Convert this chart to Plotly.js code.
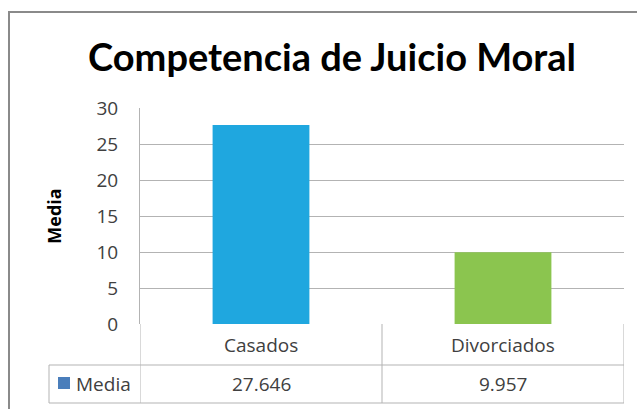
<!DOCTYPE html>
<html>
<head>
<meta charset="utf-8">
<script src="https://cdn.plot.ly/plotly-3.0.1.min.js"></script>
<style>html,body{margin:0;padding:0;background:#fff;}#chart{width:637px;height:409px;}</style>
</head>
<body>
<div id="chart"></div>
<script>
const categories = ["Casados", "Divorciados"];
const values = [27.646, 9.957];
const barColors = ["#1fa7df", "#8bc54f"];
const seriesName = "Media";
const chartTitle = "Competencia de Juicio Moral";
const yTicks = [0, 5, 10, 15, 20, 25, 30];

const FONT = "'Open Sans', Lato, sans-serif";
const TFONT = "Lato, 'Open Sans', sans-serif";
const GRID = "#b3b3b3";
const TXT = "#404040";

const plotTop = 108, plotBottom = 324, plotLeft = 140, plotRight = 624;
const W = 637, H = 409;
const ph = plotBottom - plotTop, pw = plotRight - plotLeft;
const py = v => -(v - plotBottom) / ph;   // pixel y -> paper y
const px = v => (v - plotLeft) / pw;      // pixel x -> paper x

const row1 = 365, row2 = 403, leftCol = 49;

const shapes = [];
// outer chart border
shapes.push({type: "rect", xref: "paper", yref: "paper", x0: px(9), x1: px(700), y0: py(12), y1: py(460),
  line: {color: "#8a8a8a", width: 2}, fillcolor: "rgba(0,0,0,0)", layer: "below"});
// table horizontal lines
shapes.push({type: "line", xref: "paper", yref: "paper", x0: px(leftCol), x1: 1, y0: py(row1), y1: py(row1), line: {color: GRID, width: 1}});
shapes.push({type: "line", xref: "paper", yref: "paper", x0: px(leftCol), x1: 1, y0: py(row2), y1: py(row2), line: {color: GRID, width: 1}});
// table vertical lines at category boundaries
for (let i = 0; i <= categories.length; i++) {
  shapes.push({type: "line", xref: "x", yref: "paper", x0: i - 0.5, x1: i - 0.5, y0: 0, y1: py(row2), line: {color: GRID, width: 1}});
}
shapes.push({type: "line", xref: "paper", yref: "paper", x0: px(leftCol), x1: px(leftCol), y0: py(row1), y1: py(row2), line: {color: GRID, width: 1}});
// legend key square
shapes.push({type: "rect", xref: "paper", yref: "paper", x0: px(58), x1: px(70), y0: py(377), y1: py(389),
  line: {width: 0}, fillcolor: "#4a7ebb"});

const annotations = [];
categories.forEach((c, i) => {
  annotations.push({x: c, xref: "x", yref: "paper", y: py((plotBottom + row1) / 2), text: c, showarrow: false,
    font: {family: FONT, size: 19, color: TXT}, xanchor: "center", yanchor: "middle"});
  annotations.push({x: c, xref: "x", yref: "paper", y: py((row1 + row2) / 2), text: values[i].toFixed(3), showarrow: false,
    font: {family: FONT, size: 19, color: TXT}, xanchor: "center", yanchor: "middle"});
});
annotations.push({x: px(74), xref: "paper", yref: "paper", y: py((row1 + row2) / 2), text: seriesName, showarrow: false,
  font: {family: FONT, size: 19, color: TXT}, xanchor: "left", yanchor: "middle"});

const data = [{
  type: "bar", x: categories, y: values, name: seriesName,
  marker: {color: barColors, line: {width: 0}},
  hoverinfo: "skip"
}];

const layout = {
  width: W, height: H,
  margin: {l: plotLeft, r: W - plotRight, t: plotTop, b: H - plotBottom, pad: 0},
  paper_bgcolor: "#ffffff", plot_bgcolor: "#ffffff",
  showlegend: false,
  bargap: 0.6,
  title: {text: "<b>" + chartTitle + "</b>", font: {family: TFONT, size: 38, color: "#000000"},
    x: 332 / W, xanchor: "center", xref: "container", y: 1 - 58 / H, yref: "container", yanchor: "middle"},
  xaxis: {type: "category", showticklabels: false, ticks: "", showgrid: false, zeroline: false,
    showline: false, range: [-0.5, 1.5], fixedrange: true},
  yaxis: {range: [0, 30], tickvals: yTicks, ticktext: yTicks.map(String), ticks: "",
    showgrid: true, gridcolor: GRID, gridwidth: 1, zeroline: false,
    showline: true, linecolor: GRID, linewidth: 1, mirror: false,
    ticklabelstandoff: 17,
    tickfont: {family: FONT, size: 19, color: TXT},
    title: {text: "<b>Media</b>", font: {family: FONT, size: 18, color: "#000000"}, standoff: 30},
    fixedrange: true},
  shapes: shapes,
  annotations: annotations
};

Plotly.newPlot("chart", data, layout, {displayModeBar: false, staticPlot: true});
</script>
</body>
</html>
